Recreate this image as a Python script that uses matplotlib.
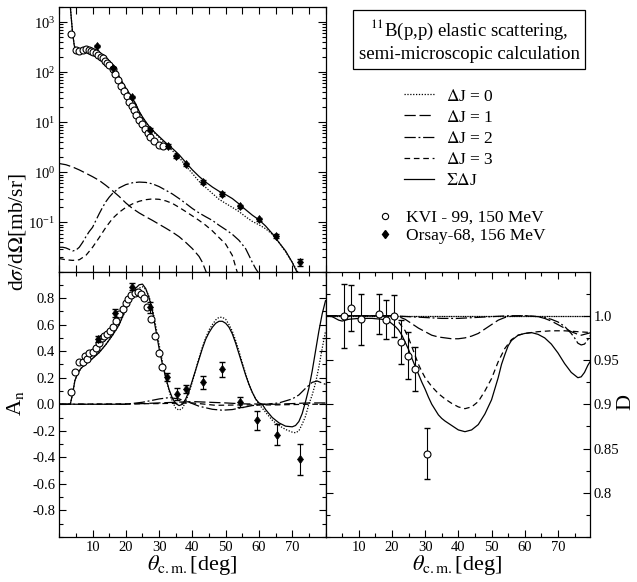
import numpy as np
import matplotlib
matplotlib.use("Agg")
import matplotlib.pyplot as plt
from matplotlib.lines import Line2D
from matplotlib.ticker import MultipleLocator, FixedLocator, NullFormatter, LogLocator

plt.rcParams['font.family'] = ['Liberation Serif', 'DejaVu Serif']
plt.rcParams['mathtext.fontset'] = 'stix'

# ---------------- data: cross section (top panel) ----------------
kvi_cs_deg = [3.5, 5.0, 6.0, 7.2, 8.0, 8.8, 9.6, 10.2, 11.0, 11.7, 12.4, 13.0, 13.6, 14.4, 15.0,
              16.0, 16.8, 17.7, 18.5, 19.4, 20.2, 21.0, 21.8, 22.5, 23.2, 24.0, 24.8, 25.7,
              26.6, 27.4, 28.6, 29.9, 31.2]
kvi_cs_val = [590, 275, 263, 279, 288, 275, 267, 255, 236, 219, 203, 188, 169, 154, 138,
              118, 91, 71, 54, 42, 33, 25.5, 21, 17.4, 13.8, 11.3, 9.4, 7.5,
              6.1, 5.1, 4.2, 3.6, 3.4]
orsay_cs_deg = [11.2, 16.2, 21.7, 27.2, 32.7, 35.2, 38.0, 43.2, 49.0, 54.4, 60.0, 65.0, 72.2]
orsay_cs_val = [336, 122, 32, 7.1, 3.36, 2.09, 1.45, 0.64, 0.37, 0.21, 0.115, 0.054, 0.016]
orsay_cs_relerr = [0.06, 0.06, 0.06, 0.06, 0.08, 0.08, 0.08, 0.08, 0.08, 0.08, 0.08, 0.1, 0.15]

cs_sum_deg = [3.3, 3.6, 4.0, 4.5, 5, 6, 7, 8, 9, 10, 11, 12, 13, 14, 15, 16, 17, 18, 19, 20,
              21, 22, 23, 24, 25, 26, 27, 28, 29, 30, 31, 32, 33, 34, 35, 36, 38, 40, 42, 44,
              46, 48, 50, 52, 54, 56, 58, 60, 62, 64, 66, 68, 70, 71.5]
cs_sum_val = [2100, 1200, 600, 340, 275, 262, 264, 270, 274, 272, 263, 246, 223, 196, 166,
              136, 107, 82, 62, 48, 38, 30, 23, 16.5, 12.8, 10.2, 8.3, 7.0, 6.0, 5.2, 4.5,
              3.9, 3.4, 3.0, 2.6, 2.25, 1.58, 1.12, 0.83, 0.64, 0.51, 0.42, 0.36, 0.30,
              0.235, 0.18, 0.14, 0.113, 0.085, 0.06, 0.04, 0.027, 0.016, 0.0100]
cs_dj0_deg = [3.3, 3.6, 4.0, 4.5, 5, 6, 7, 8, 9, 10, 11, 12, 13, 14, 15, 16, 17, 18, 19, 20,
              21, 22, 23, 24, 25, 26, 27, 28, 29, 30, 32, 34, 36, 38, 40, 42, 44, 46, 48, 50,
              52, 54, 56, 58, 60, 62, 64, 66, 68, 70, 71.8]
cs_dj0_val = [2100, 1200, 600, 340, 275, 262, 264, 270, 274, 272, 263, 246, 223, 196, 166,
              136, 107, 82, 62, 48, 38, 30, 23, 16.3, 12.5, 10.0, 8.1, 6.8, 5.8, 5.0, 3.6,
              2.7, 2.0, 1.35, 0.95, 0.66, 0.5, 0.38, 0.29, 0.24, 0.2, 0.165, 0.13, 0.105,
              0.09, 0.075, 0.058, 0.04, 0.026, 0.016, 0.0100]
cs_dj1_deg = [0, 2, 4, 6, 8, 10, 12, 14, 16, 18, 20, 22, 24, 26, 28, 30, 32, 34, 36, 38, 40,
              42, 43, 44.2]
cs_dj1_val = [1.5, 1.42, 1.28, 1.12, 0.96, 0.82, 0.69, 0.55, 0.43, 0.33, 0.245, 0.19, 0.155,
              0.13, 0.11, 0.092, 0.077, 0.064, 0.052, 0.04, 0.03, 0.021, 0.016, 0.0100]
cs_dj2_deg = [0, 1, 2, 3, 4, 5, 6, 7, 8, 9, 10, 11, 12, 13, 14, 15, 16, 18, 20, 22, 24, 26,
              28, 30, 32, 34, 36, 38, 40, 42, 44, 46, 48, 50, 52, 54, 56, 57, 58, 59, 59.8]
cs_dj2_val = [0.032, 0.032, 0.031, 0.029, 0.027, 0.028, 0.032, 0.04, 0.052, 0.066, 0.08,
              0.11, 0.15, 0.2, 0.26, 0.32, 0.38, 0.49, 0.57, 0.62, 0.64, 0.63, 0.59, 0.52,
              0.44, 0.37, 0.3, 0.24, 0.19, 0.155, 0.13, 0.11, 0.088, 0.072, 0.058, 0.044,
              0.03, 0.022, 0.016, 0.012, 0.0100]
cs_dj3_deg = [0, 2, 4, 6, 8, 10, 12, 14, 16, 18, 20, 22, 24, 26, 28, 30, 32, 34, 36, 38, 40,
              42, 44, 46, 48, 50, 52, 53.5]
cs_dj3_val = [0.019, 0.018, 0.0175, 0.018, 0.022, 0.032, 0.05, 0.08, 0.12, 0.16, 0.2, 0.235,
              0.265, 0.285, 0.295, 0.29, 0.27, 0.24, 0.2, 0.165, 0.135, 0.11, 0.088, 0.068,
              0.05, 0.037, 0.022, 0.0100]

# ---------------- data: analysing power (bottom left) ----------------
kvi_an_deg = [3.5, 4.7, 5.9, 7.0, 7.7, 8.4, 9.0, 10.0, 11.0, 11.8, 12.7, 13.4, 14.2, 15.2,
              16.2, 17.0, 17.9, 19.0, 20.0, 20.7, 21.6, 22.7, 23.7, 24.5, 25.4, 26.4, 27.7,
              28.7, 30.0, 31.0]
kvi_an_val = [0.093, 0.242, 0.315, 0.32, 0.363, 0.34, 0.383, 0.395, 0.421, 0.459, 0.497,
              0.514, 0.529, 0.554, 0.584, 0.627, 0.678, 0.718, 0.761, 0.794, 0.824, 0.837,
              0.844, 0.829, 0.803, 0.736, 0.645, 0.514, 0.388, 0.282]
orsay_an_deg = [11.7, 16.7, 21.8, 27.4, 32.5, 35.5, 38.0, 43.2, 49.0, 54.4, 59.5, 65.4, 72.2]
orsay_an_val = [0.491, 0.69, 0.887, 0.731, 0.202, 0.076, 0.116, 0.164, 0.262, 0.017, -0.121,
                -0.229, -0.416]
orsay_an_err = [0.023, 0.03, 0.028, 0.04, 0.03, 0.044, 0.03, 0.05, 0.057, 0.038, 0.073,
                0.08, 0.12]

an_sum_deg = [0, 3.3, 4, 4.7, 5.5, 6.5, 8, 10, 12, 14, 16, 18, 19, 20, 21, 22, 23, 24, 25,
              26, 27, 28, 29, 30, 31, 32, 33, 34, 35, 36, 37, 38, 39, 40, 41, 42, 43, 44, 45,
              46, 47, 48, 49, 50, 51, 52, 53, 54, 55, 56, 57, 58, 59, 60, 61, 62, 64, 66, 68,
              70, 71, 72, 73, 74, 75, 76, 77, 78, 79, 80]
an_sum_val = [0, 0, 0.08, 0.18, 0.23, 0.27, 0.305, 0.345, 0.39, 0.45, 0.52, 0.6, 0.66,
              0.72, 0.78, 0.83, 0.875, 0.9, 0.905, 0.87, 0.8, 0.7, 0.56, 0.42, 0.3, 0.2,
              0.11, 0.045, 0.005, -0.01, 0.0, 0.04, 0.1, 0.18, 0.26, 0.34, 0.42, 0.49, 0.54,
              0.58, 0.61, 0.625, 0.625, 0.61, 0.58, 0.53, 0.46, 0.38, 0.3, 0.22, 0.15, 0.09,
              0.04, 0.01, 0.0, -0.04, -0.1, -0.14, -0.165, -0.17, -0.16, -0.13, -0.07, 0.02,
              0.12, 0.25, 0.4, 0.55, 0.68, 0.78]
an_dj0_deg = [0, 3.3, 4, 4.7, 5.5, 6.5, 8, 10, 12, 14, 16, 18, 20, 22, 23, 24, 25, 26, 27,
              28, 29, 30, 31, 32, 33, 34, 35, 36, 37, 38, 39, 40, 41, 42, 43, 44, 45, 46, 47,
              48, 49, 50, 51, 52, 53, 54, 55, 56, 57, 58, 59, 60, 62, 64, 66, 68, 70, 71, 72,
              73, 74, 75, 76, 77, 78, 79, 80]
an_dj0_val = [0, 0, 0.08, 0.18, 0.23, 0.27, 0.305, 0.345, 0.39, 0.45, 0.52, 0.6, 0.71,
              0.81, 0.85, 0.875, 0.885, 0.865, 0.81, 0.72, 0.59, 0.45, 0.32, 0.2, 0.1, 0.02,
              -0.03, -0.045, -0.03, 0.02, 0.09, 0.17, 0.26, 0.35, 0.43, 0.5, 0.56, 0.6, 0.635,
              0.655, 0.655, 0.64, 0.6, 0.55, 0.48, 0.4, 0.31, 0.23, 0.15, 0.09, 0.04, 0.0,
              -0.06, -0.12, -0.16, -0.19, -0.21, -0.215, -0.2, -0.15, -0.09, 0.0, 0.07, 0.16,
              0.28, 0.42, 0.55]
an_dj1_deg = [0, 20, 30, 35, 40, 45, 50, 55, 65, 75, 80]
an_dj1_val = [0.0, 0.0, 0.01, 0.015, 0.02, 0.015, 0.01, 0.003, 0.0, 0.01, 0.01]
an_dj2_deg = [0, 20, 25, 30, 33, 36, 39, 42, 46, 49, 52, 55, 58, 62, 66, 70, 72, 74, 76,
              77.5, 79, 80]
an_dj2_val = [0.0, 0.0, 0.015, 0.04, 0.05, 0.04, 0.015, -0.015, -0.038, -0.045, -0.04,
              -0.025, -0.01, 0.0, 0.01, 0.04, 0.07, 0.12, 0.165, 0.175, 0.16, 0.15]
an_dj3_deg = [0, 30, 40, 47, 55, 65, 75, 80]
an_dj3_val = [0.0, 0.005, 0.01, -0.008, -0.005, -0.005, 0.0, 0.0]

# ---------------- data: depolarisation D (bottom right) ----------------
kvi_d_deg = [5.5, 7.7, 10.8, 16.2, 18.3, 20.6, 22.7, 24.9, 27.0, 30.5]
kvi_d_val = [1.0, 1.009, 0.996, 1.002, 0.9955, 1.0, 0.970, 0.955, 0.94, 0.844]
kvi_d_err = [0.036, 0.026, 0.029, 0.023, 0.022, 0.024, 0.025, 0.027, 0.025, 0.029]

d_sum_deg = [0, 2, 4, 5, 7, 10, 14, 17, 19, 20, 21, 22, 23, 24, 25, 26, 27, 28, 29, 30, 31,
             32, 33, 34, 35, 36, 38, 40, 42, 44, 46, 48, 50, 52, 53, 54, 55, 56, 58, 60, 62,
             64, 66, 68, 70, 72, 74, 76, 77, 78, 79, 80]
d_sum_val = [1.0, 0.999, 0.995, 0.994, 0.996, 0.997, 0.997, 0.996, 0.994, 0.991, 0.988,
             0.984, 0.978, 0.97, 0.962, 0.952, 0.943, 0.934, 0.925, 0.917, 0.908, 0.9,
             0.894, 0.888, 0.884, 0.881, 0.876, 0.871, 0.869, 0.871, 0.877, 0.889, 0.905,
             0.93, 0.945, 0.956, 0.966, 0.972, 0.978, 0.98, 0.981, 0.979, 0.975, 0.968,
             0.958, 0.946, 0.936, 0.93, 0.931, 0.936, 0.944, 0.95]
d_dj0_deg = [0, 80]
d_dj0_val = [1.0, 1.0]
d_dj1_deg = [0, 20, 22, 24, 26, 28, 30, 32, 34, 36, 38, 40, 42, 44, 46, 48, 50, 52, 54, 56,
             60, 64, 66, 68, 70, 72, 74, 76, 77, 78, 80]
d_dj1_val = [1.0, 1.0, 0.999, 0.996, 0.991, 0.986, 0.982, 0.978, 0.976, 0.975, 0.974,
             0.974, 0.975, 0.977, 0.98, 0.985, 0.99, 0.995, 0.998, 0.9995, 1.0, 0.999,
             0.997, 0.994, 0.99, 0.986, 0.982, 0.979, 0.978, 0.979, 0.981]
d_dj2_deg = [0, 20, 25, 30, 35, 40, 45, 50, 55, 60, 64, 66, 68, 70, 72, 74, 75, 76, 77, 78,
             79, 80]
d_dj2_val = [1.0, 1.0, 0.999, 0.998, 0.997, 0.997, 0.998, 0.999, 1.0, 1.0, 0.999, 0.998,
             0.996, 0.993, 0.988, 0.98, 0.975, 0.969, 0.967, 0.968, 0.973, 0.979]
d_dj3_deg = [0, 18, 20, 22, 23, 24, 25, 26, 27, 28, 29, 30, 31, 32, 34, 36, 38, 40, 42, 44,
             46, 48, 50, 52, 54, 56, 58, 60, 64, 68, 72, 76, 80]
d_dj3_val = [1.0, 1.0, 0.998, 0.993, 0.988, 0.983, 0.975, 0.965, 0.955, 0.945, 0.937,
             0.93, 0.925, 0.92, 0.912, 0.906, 0.901, 0.897, 0.895, 0.897, 0.903, 0.915,
             0.929, 0.948, 0.963, 0.973, 0.978, 0.98, 0.982, 0.983, 0.983, 0.982, 0.981]

# ---------------- labels ----------------
legend_labels = [r'$\Delta$J = 0', r'$\Delta$J = 1', r'$\Delta$J = 2', r'$\Delta$J = 3',
                 r'$\Sigma\Delta$J']
data_labels = ['KVI - 99, 150 MeV', 'Orsay-68, 156 MeV']
title_lines = r'$^{11}$B(p,p) elastic scattering,' + '\n' + 'semi-microscopic calculation'
an_ticks = [-0.8, -0.6, -0.4, -0.2, 0.0, 0.2, 0.4, 0.6, 0.8]
an_ticklabels = ['-0.8', '-0.6', '-0.4', '-0.2', '0.0', '0.2', '0.4', '0.6', '0.8']
d_ticks = [0.8, 0.85, 0.9, 0.95, 1.0]
d_ticklabels = ['0.8', '0.85', '0.9', '0.95', '1.0']
x_ticks = [10, 20, 30, 40, 50, 60, 70]

# ---------------- styles ----------------
LW = 0.9
st_dj0 = dict(color='black', lw=LW, ls=(0, (1, 1.3)))
st_dj1 = dict(color='black', lw=LW, ls=(0, (9, 3)))
st_dj2 = dict(color='black', lw=LW, ls=(0, (9, 2.2, 1.5, 2.2)))
st_dj3 = dict(color='black', lw=LW, ls=(0, (4.5, 3)))
st_sum = dict(color='black', lw=LW, ls='-')
circ = dict(marker='o', ms=5, mfc='white', mec='black', mew=0.8, ls='none')
diam = dict(marker='d', ms=4.5, mfc='black', mec='black', mew=0.5, ls='none')

W, H = 637, 582
fig = plt.figure(figsize=(W / 100, H / 100), dpi=100)

def fx(p):
    return p / W

def fy(p):
    return 1 - p / H

xl, xm, xr = 59.3, 325.5, 589.5
yt, ym, yb = 7.0, 271.5, 537.0

ax1 = fig.add_axes([fx(xl), fy(ym), fx(xm - xl), (ym - yt) / H])
ax2 = fig.add_axes([fx(xl), fy(yb), fx(xm - xl), (yb - ym) / H])
ax3 = fig.add_axes([fx(xm), fy(yb), fx(xr - xm), (yb - ym) / H])

for ax in (ax1, ax2, ax3):
    for s in ax.spines.values():
        s.set_linewidth(0.9)
    ax.tick_params(which='both', direction='in', top=True, right=True, labelsize=10.5,
                   width=0.8, pad=3)
    ax.tick_params(which='major', length=5)
    ax.tick_params(which='minor', length=3)

# top panel
ax1.plot(cs_dj0_deg, cs_dj0_val, **st_dj0)
ax1.plot(cs_dj1_deg, cs_dj1_val, **st_dj1)
ax1.plot(cs_dj2_deg, cs_dj2_val, **st_dj2)
ax1.plot(cs_dj3_deg, cs_dj3_val, **st_dj3)
ax1.plot(cs_sum_deg, cs_sum_val, **st_sum)
ax1.plot(kvi_cs_deg, kvi_cs_val, **circ)
ax1.errorbar(orsay_cs_deg, orsay_cs_val,
             yerr=np.array(orsay_cs_relerr) * np.array(orsay_cs_val),
             fmt='none', ecolor='black', elinewidth=0.8, capsize=2)
ax1.plot(orsay_cs_deg, orsay_cs_val, **diam)
ax1.set_yscale('log')
ax1.set_xlim(0, 80)
ax1.set_ylim(0.0105, 2000)
ax1.xaxis.set_major_locator(MultipleLocator(5))
ax1.xaxis.set_major_formatter(NullFormatter())
ax1.yaxis.set_major_locator(LogLocator(base=10))
ax1.yaxis.set_minor_locator(LogLocator(base=10, subs=np.arange(2, 10)))
ax1.yaxis.set_minor_formatter(NullFormatter())
ax1.tick_params(axis='y', which='major', length=6)
ax1.tick_params(axis='x', which='major', length=5)

# bottom left
ax2.plot(an_dj0_deg, an_dj0_val, **st_dj0)
ax2.plot(an_dj1_deg, an_dj1_val, **st_dj1)
ax2.plot(an_dj2_deg, an_dj2_val, **st_dj2)
ax2.plot(an_dj3_deg, an_dj3_val, **st_dj3)
ax2.plot(an_sum_deg, an_sum_val, **st_sum)
ax2.plot(kvi_an_deg, kvi_an_val, **circ)
ax2.errorbar(orsay_an_deg, orsay_an_val, yerr=orsay_an_err, fmt='none', ecolor='black',
             elinewidth=0.8, capsize=2.5)
ax2.plot(orsay_an_deg, orsay_an_val, **diam)
ax2.set_xlim(0, 80)
ax2.set_ylim(-1.0, 1.0)
ax2.xaxis.set_major_locator(FixedLocator(x_ticks))
ax2.xaxis.set_minor_locator(MultipleLocator(5))
ax2.yaxis.set_major_locator(FixedLocator(an_ticks))
ax2.set_yticklabels(an_ticklabels)
ax2.yaxis.set_minor_locator(MultipleLocator(0.1))
ax2.set_xlabel(r'$\theta_{\rm c.m.}$[deg]', fontsize=16, labelpad=-1)

# bottom right (Delta J = 0 gives D = 1: drawn as a fine dotted line that reads as solid)
ax3.plot(d_dj0_deg, d_dj0_val, color='black', lw=LW, ls=(0, (1, 0.4)))
ax3.plot(d_dj1_deg, d_dj1_val, **st_dj1)
ax3.plot(d_dj2_deg, d_dj2_val, **st_dj2)
ax3.plot(d_dj3_deg, d_dj3_val, **st_dj3)
ax3.plot(d_sum_deg, d_sum_val, **st_sum)
ax3.errorbar(kvi_d_deg, kvi_d_val, yerr=kvi_d_err, fmt='none', ecolor='black',
             elinewidth=0.8, capsize=2.5)
ax3.plot(kvi_d_deg, kvi_d_val, **circ)
ax3.set_xlim(0, 79.5)
ax3.set_ylim(0.75, 1.05)
ax3.xaxis.set_major_locator(FixedLocator(x_ticks))
ax3.xaxis.set_minor_locator(MultipleLocator(5))
ax3.yaxis.set_major_locator(FixedLocator(d_ticks))
ax3.set_yticklabels(d_ticklabels)
ax3.yaxis.set_minor_locator(MultipleLocator(0.025))
ax3.tick_params(labelleft=False, labelright=True)
ax3.set_xlabel(r'$\theta_{\rm c.m.}$[deg]', fontsize=16, labelpad=-1)

# axis labels
fig.text(fx(18), fy(232), r'd$\sigma$/d$\Omega$[mb/sr]', rotation=90, ha='center',
         va='center', fontsize=15.5)
fig.text(fx(15), fy(403), r'A$_{\rm n}$', rotation=90, ha='center', va='center', fontsize=16)
fig.text(fx(626), fy(402), 'D', rotation=90, ha='center', va='center', fontsize=16)

# title box
fig.text(fx(469), fy(40.5), title_lines, ha='center', va='center', fontsize=13.5,
         linespacing=1.3,
         bbox=dict(boxstyle='square,pad=0.3', fc='white', ec='black', lw=0.9))

# legends
line_handles = [Line2D([], [], **st_dj0), Line2D([], [], **st_dj1), Line2D([], [], **st_dj2),
                Line2D([], [], **st_dj3), Line2D([], [], **st_sum)]
leg1 = fig.legend(line_handles, legend_labels, loc='center left',
                  bbox_to_anchor=(fx(404), fy(138.5)), frameon=False, fontsize=12.5,
                  handlelength=1.75, handletextpad=0.65, labelspacing=0.28,
                  borderpad=0, borderaxespad=0)
mk_handles = [Line2D([], [], marker='o', ms=4.5, mfc='white', mec='black', mew=0.8, ls='none'),
              Line2D([], [], marker='d', ms=4.5, mfc='black', mec='black', ls='none')]
leg2 = fig.legend(mk_handles, data_labels, loc='center left',
                  bbox_to_anchor=(fx(376), fy(227)), frameon=False, fontsize=12.5,
                  handlelength=1.0, handletextpad=0.75, labelspacing=0.1,
                  borderpad=0, borderaxespad=0)

fig.savefig('out.png', dpi=100)
